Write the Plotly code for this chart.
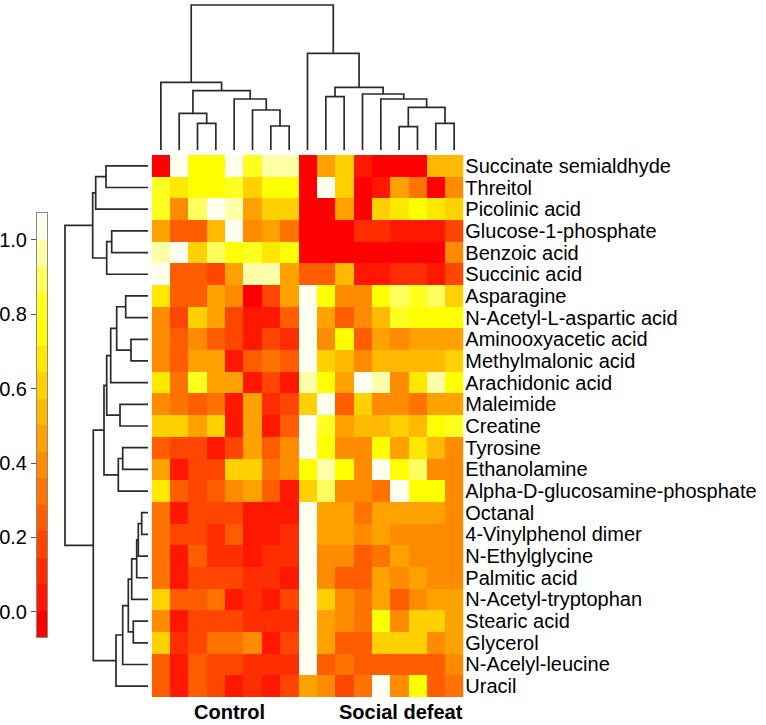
import plotly.graph_objects as go

# ---------------- data ----------------
metabolites = [
    "Succinate semialdhyde", "Threitol", "Picolinic acid", "Glucose-1-phosphate",
    "Benzoic acid", "Succinic acid", "Asparagine", "N-Acetyl-L-aspartic acid",
    "Aminooxyacetic acid", "Methylmalonic acid", "Arachidonic acid", "Maleimide",
    "Creatine", "Tyrosine", "Ethanolamine", "Alpha-D-glucosamine-phosphate",
    "Octanal", "4-Vinylphenol dimer", "N-Ethylglycine", "Palmitic acid",
    "N-Acetyl-tryptophan", "Stearic acid", "Glycerol", "N-Acelyl-leucine", "Uracil",
]
group_labels = ["Control", "Social defeat"]
n_control = 8
n_defeat = 9

values = [
    [0.00, 1.03, 0.75, 0.75, 1.03, 0.80, 1.00, 0.95, 0.00, 0.47, 0.62, 0.04, 0.00, 0.00, 0.00, 0.55, 0.55],
    [0.85, 0.70, 0.75, 0.72, 0.85, 0.62, 0.75, 0.75, 0.00, 1.03, 0.62, 0.00, 0.04, 0.50, 0.30, 0.00, 0.40],
    [0.85, 0.42, 0.88, 1.03, 0.97, 0.50, 0.62, 0.62, 0.00, 0.00, 0.50, 0.00, 0.62, 0.70, 0.72, 0.65, 0.62],
    [0.47, 0.28, 0.22, 0.55, 1.03, 0.38, 0.47, 0.32, 0.00, 0.00, 0.00, 0.10, 0.10, 0.03, 0.05, 0.03, 0.20],
    [0.95, 1.03, 0.60, 0.88, 0.72, 0.85, 0.68, 0.75, 0.00, 0.00, 0.00, 0.00, 0.00, 0.00, 0.00, 0.00, 0.40],
    [1.03, 0.25, 0.25, 0.20, 0.47, 0.97, 0.97, 0.50, 0.25, 0.25, 0.55, 0.03, 0.03, 0.10, 0.12, 0.05, 0.18],
    [0.68, 0.25, 0.22, 0.50, 0.38, 0.00, 0.20, 0.45, 1.03, 0.74, 0.42, 0.38, 0.74, 0.90, 0.85, 0.90, 0.62],
    [0.40, 0.20, 0.62, 0.45, 0.20, 0.03, 0.05, 0.22, 1.03, 0.50, 0.28, 0.40, 0.55, 0.85, 0.75, 0.75, 0.72],
    [0.40, 0.25, 0.40, 0.28, 0.20, 0.03, 0.20, 0.12, 1.03, 0.42, 0.72, 0.28, 0.50, 0.42, 0.50, 0.47, 0.50],
    [0.40, 0.28, 0.45, 0.45, 0.03, 0.25, 0.35, 0.25, 1.03, 0.62, 0.55, 0.40, 0.52, 0.52, 0.52, 0.52, 0.58],
    [0.68, 0.35, 0.80, 0.45, 0.50, 0.03, 0.20, 0.03, 0.97, 0.75, 0.45, 1.03, 0.95, 0.42, 0.65, 0.95, 0.72],
    [0.38, 0.35, 0.25, 0.35, 0.03, 0.47, 0.12, 0.20, 0.60, 1.03, 0.22, 0.62, 0.38, 0.38, 0.35, 0.47, 0.47],
    [0.60, 0.62, 0.50, 0.58, 0.03, 0.47, 0.05, 0.22, 1.03, 0.85, 0.50, 0.52, 0.55, 0.60, 0.55, 0.75, 0.80],
    [0.28, 0.20, 0.15, 0.05, 0.18, 0.50, 0.28, 0.38, 1.03, 0.72, 0.40, 0.42, 0.75, 0.50, 0.65, 0.55, 0.42],
    [0.50, 0.03, 0.15, 0.15, 0.62, 0.62, 0.35, 0.38, 0.75, 0.95, 0.75, 0.42, 1.03, 0.72, 0.88, 0.40, 0.38],
    [0.65, 0.28, 0.18, 0.28, 0.40, 0.47, 0.25, 0.03, 0.58, 0.92, 0.42, 0.42, 0.35, 1.03, 0.72, 0.72, 0.40],
    [0.35, 0.03, 0.15, 0.15, 0.15, 0.05, 0.05, 0.05, 1.03, 0.47, 0.50, 0.35, 0.45, 0.50, 0.47, 0.50, 0.42],
    [0.35, 0.20, 0.18, 0.12, 0.22, 0.05, 0.05, 0.10, 1.03, 0.47, 0.47, 0.38, 0.45, 0.38, 0.42, 0.42, 0.40],
    [0.35, 0.05, 0.25, 0.10, 0.10, 0.03, 0.12, 0.12, 1.03, 0.40, 0.40, 0.28, 0.35, 0.47, 0.42, 0.42, 0.40],
    [0.35, 0.03, 0.18, 0.20, 0.20, 0.12, 0.10, 0.03, 1.03, 0.40, 0.28, 0.28, 0.50, 0.38, 0.45, 0.40, 0.38],
    [0.58, 0.22, 0.25, 0.32, 0.03, 0.12, 0.03, 0.18, 1.03, 0.62, 0.38, 0.35, 0.47, 0.25, 0.38, 0.50, 0.50],
    [0.38, 0.03, 0.20, 0.20, 0.20, 0.10, 0.12, 0.10, 1.03, 0.50, 0.38, 0.35, 0.75, 0.42, 0.60, 0.60, 0.47],
    [0.58, 0.12, 0.18, 0.32, 0.32, 0.40, 0.03, 0.20, 1.03, 0.47, 0.28, 0.28, 0.60, 0.58, 0.60, 0.38, 0.47],
    [0.22, 0.03, 0.22, 0.15, 0.15, 0.10, 0.12, 0.10, 1.03, 0.28, 0.32, 0.22, 0.25, 0.25, 0.22, 0.25, 0.38],
    [0.25, 0.05, 0.22, 0.20, 0.05, 0.12, 0.05, 0.20, 0.50, 0.40, 0.20, 0.35, 1.03, 0.40, 0.72, 0.22, 0.32],
]

# colour key (heat palette, 16 steps), value range of the key
heat_colors = [
    "#FF0000", "#FF1700", "#FF2E00", "#FF4600", "#FF5D00", "#FF7400", "#FF8B00", "#FFA200",
    "#FFB900", "#FFD100", "#FFE800", "#FFFF00", "#FFFF20", "#FFFF60", "#FFFFA8", "#FFFFF0",
]
key_min, key_max = -0.068, 1.0726
key_ticks = [0.0, 0.2, 0.4, 0.6, 0.8, 1.0]

# column dendrogram (leaf = column index, node = (left, right, merge height))
col_tree = (
    (0, ((1, (2, 3, 26.7), 36.7), (4, (5, (6, 7, 24.0), 40.0), 51.0), 59.3), 67.7),
    (8, ((9, 10, 53.3), (11, (12, ((13, 14, 23.3), (15, 16, 26.7), 42.7), 51.0), 56.0), 62.7), 96.7),
    145.0,
)
# row dendrogram (leaf = row index)
row_tree = (
    (((0, 1, 42.0), 2, 52.3), ((3, 4, 36.3), 5, 41.3), 55.3),
    (
        (((((6, 7, 22.3), (8, 9, 17.0), 31.3), 10, 37.3), (11, 12, 28.0), 41.3),
         ((13, 14, 25.3), 15, 29.7), 44.0),
        ((((((((16, 17, 6.3), 18, 9.7), 19, 11.3), 20, 16.3), (21, 22, 14.7), 19.7), 23, 25.3), 24, 32.0)),
        54.7,
    ),
    83.0,
)


def dendro_segments(node, xs, hs):
    """Return (position, height) of node; append U-shaped link coordinates."""
    if isinstance(node, int):
        return float(node), 0.0
    left, right, h = node
    lp, lh = dendro_segments(left, xs, hs)
    rp, rh = dendro_segments(right, xs, hs)
    xs += [lp, lp, rp, rp, None]
    hs += [lh, h, h, rh, None]
    return (lp + rp) / 2.0, h


# ---------------- layout geometry ----------------
W, H = 766, 725


def px_x(a, b):
    return [a / W, b / W]


def px_y(top, bottom):
    return [1 - bottom / H, 1 - top / H]


n_rows = len(metabolites)
n_cols = n_control + n_defeat

line_color = "#2a2a2a"
font_family = "Liberation Sans, Arial, sans-serif"

fig = go.Figure()

# main heatmap
step_scale = []
nb = len(heat_colors)
for i, c in enumerate(heat_colors):
    step_scale.append([i / nb, c])
    step_scale.append([(i + 1) / nb, c])

fig.add_trace(go.Heatmap(
    z=values, x=list(range(n_cols)), y=list(range(n_rows)),
    colorscale=step_scale, zmin=key_min, zmax=key_max, showscale=False,
    xaxis="x", yaxis="y", hoverinfo="skip",
))

# column dendrogram
cx, ch = [], []
dendro_segments(col_tree, cx, ch)
fig.add_trace(go.Scatter(x=cx, y=ch, mode="lines", xaxis="x2", yaxis="y2",
                         line=dict(color=line_color, width=1.7), hoverinfo="skip",
                         showlegend=False))

# row dendrogram
rp, rh = [], []
dendro_segments(row_tree, rp, rh)
fig.add_trace(go.Scatter(x=rh, y=rp, mode="lines", xaxis="x3", yaxis="y3",
                         line=dict(color=line_color, width=1.7), hoverinfo="skip",
                         showlegend=False))

# colour key
bw = (key_max - key_min) / nb
centers = [key_min + (i + 0.5) * bw for i in range(nb)]
fig.add_trace(go.Heatmap(
    z=[[c] for c in centers], x=[0], y=centers,
    colorscale=step_scale, zmin=key_min, zmax=key_max, showscale=False,
    xaxis="x4", yaxis="y4", hoverinfo="skip",
))

hm_x = px_x(151.7, 463.3)
hm_y = px_y(155, 697)

hidden = dict(showgrid=False, zeroline=False, showticklabels=False, ticks="", showline=False)

fig.update_layout(
    width=W, height=H,
    margin=dict(l=0, r=0, t=0, b=0),
    paper_bgcolor="white", plot_bgcolor="white",
    font=dict(family=font_family, size=20, color="#000000"),
    showlegend=False,
    xaxis=dict(domain=hm_x, range=[-0.5, n_cols - 0.5], **hidden),
    yaxis=dict(domain=hm_y, range=[n_rows - 0.5, -0.5], side="right",
               tickmode="array", tickvals=list(range(n_rows)), ticktext=metabolites,
               showticklabels=True, ticks="", showgrid=False, zeroline=False,
               ticklabelstandoff=1, tickfont=dict(size=20, color="#000000")),
    xaxis2=dict(domain=hm_x, range=[-0.5, n_cols - 0.5], anchor="y2", **hidden),
    yaxis2=dict(domain=px_y(0, 152), range=[-2, 150], anchor="x2", **hidden),
    xaxis3=dict(domain=px_x(60, 151), range=[88, -3], anchor="y3", **hidden),
    yaxis3=dict(domain=hm_y, range=[n_rows - 0.5, -0.5], anchor="x3", **hidden),
    xaxis4=dict(domain=px_x(37, 47), range=[-0.5, 0.5], anchor="y4",
                showgrid=False, zeroline=False, showticklabels=False, ticks="",
                showline=True, mirror=True, linecolor="#8a8a8a", linewidth=1),
    yaxis4=dict(domain=px_y(213, 637), range=[key_min, key_max], anchor="x4", side="left",
                tickmode="array", tickvals=key_ticks,
                ticktext=[f"{t:.1f}" for t in key_ticks],
                ticks="outside", ticklen=5, tickcolor="#555555",
                showgrid=False, zeroline=False,
                showline=True, mirror=True, linecolor="#8a8a8a", linewidth=1,
                tickfont=dict(size=20, color="#000000")),
)

# group labels under the heatmap
group_pos = [3.72, 13.1]
for lab, xp in zip(group_labels, group_pos):
    fig.add_annotation(x=xp, xref="x", y=1 / H, yref="paper",
                       text=f"<b>{lab}</b>", showarrow=False,
                       xanchor="center", yanchor="bottom", borderpad=0,
                       font=dict(size=20, color="#000000", family=font_family))

fig.write_html(
    "out.html",
    config={"displayModeBar": False},
    post_script="document.body.style.margin='0';document.body.style.overflow='hidden';",
)
